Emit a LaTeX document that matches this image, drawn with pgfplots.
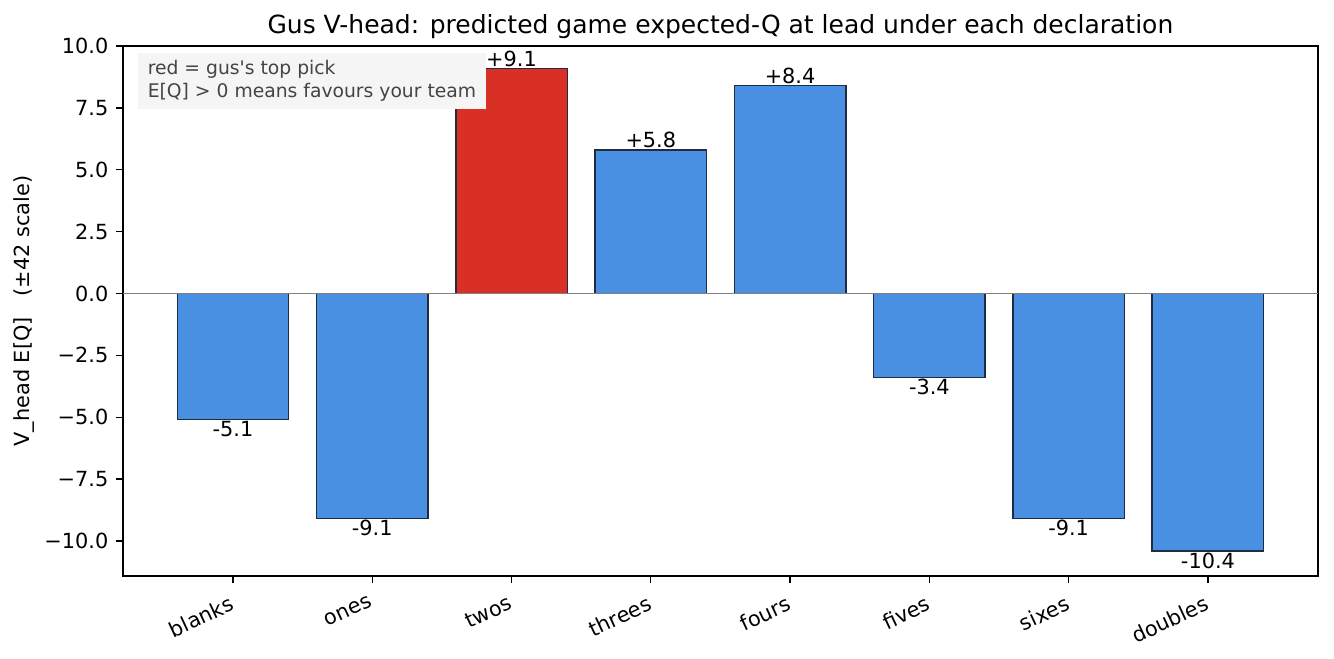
\documentclass[border=0pt]{standalone}
\usepackage{pgfplots}
\pgfplotsset{compat=1.18}
\usepackage{fontspec}
\setmainfont{DejaVu Sans}
\definecolor{barblue}{RGB}{74,144,226}
\definecolor{barred}{RGB}{217,48,37}
\definecolor{baredge}{RGB}{30,45,65}
\definecolor{notebg}{RGB}{245,245,245}
\definecolor{notetext}{RGB}{68,68,68}
\begin{document}
\begin{tikzpicture}
\path (-59.0pt,-39.4pt) rectangle (581.3pt,276.5pt);
\begin{axis}[
    at={(0,0)}, anchor=south west,
    scale only axis,
    width=573.6pt, height=254.4pt,
    ybar, bar shift=0pt, bar width=0.8,
    xmin=-0.79, xmax=7.79,
    ymin=-11.42, ymax=10,
    xtick={0,...,7},
    xticklabels={blanks,ones,twos,threes,fours,fives,sixes,doubles},
    xticklabel style={rotate=25, anchor=north east, inner sep=1pt, yshift=-3pt, xshift=-3pt},
    ytick={-10,-7.5,-5,-2.5,0,2.5,5,7.5,10},
    yticklabels={−10.0,−7.5,−5.0,−2.5,0.0,2.5,5.0,7.5,10.0},
    tick align=outside,
    major tick length=3.5pt,
    tick style={black, line width=0.6pt},
    axis line style={line width=0.6pt},
    xtick pos=bottom, ytick pos=left,
    ylabel={V\_head E[Q]\hspace{1em}(±42 scale)},
    ylabel style={yshift=-2pt},
    title={Gus V-head: predicted game expected-Q at lead under each declaration},
    title style={font=\fontsize{12}{14}\selectfont, yshift=-6pt},
    /pgf/number format/assume math mode=true,
    nodes near coords={\pgfmathprintnumber[fixed,precision=1,showpos]{\pgfplotspointmeta}},
    nodes near coords align=vertical,
    every node near coord/.append style={inner sep=0.5pt, font=\fontsize{10}{12}\selectfont},
]
\addplot[fill=barblue, draw=baredge, line width=0.7pt] coordinates {
    (0,-5.1) (1,-9.1) (3,5.8) (4,8.4) (5,-3.4) (6,-9.1) (7,-10.4)};
\addplot[fill=barred, draw=baredge, line width=0.7pt] coordinates {(2,9.1)};
\addplot[sharp plot, no marks, draw=gray, line width=0.6pt, nodes near coords={}] coordinates {(-0.79,0) (7.79,0)};
\node[anchor=north west, fill=notebg, text=notetext, align=left,
      font=\fontsize{9}{10.8}\selectfont, inner xsep=4.5pt, inner ysep=3.5pt]
      at (rel axis cs:0.0126,0.987)
      {red = gus\textquotesingle s top pick\\E[Q] > 0 means favours your team};
\end{axis}
\end{tikzpicture}
\end{document}
